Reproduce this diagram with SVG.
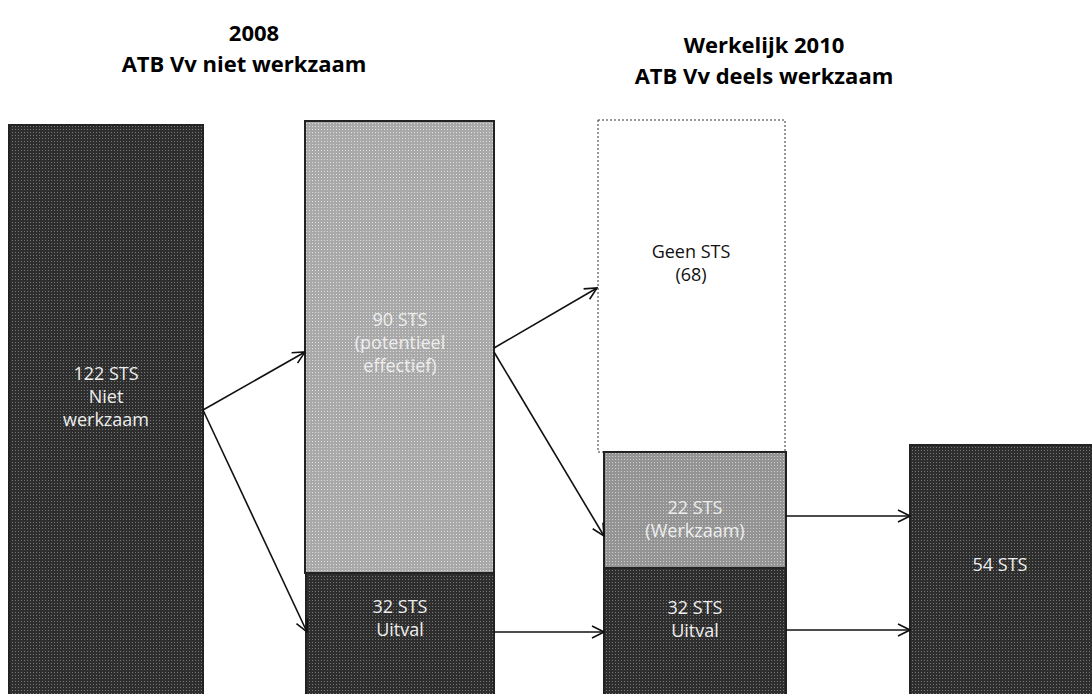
<svg xmlns="http://www.w3.org/2000/svg" width="1092" height="694" viewBox="0 0 1092 694">
<defs>
<style>
.t{font-family:"Open Sans","Liberation Sans",sans-serif;font-weight:bold;font-size:22px;fill:#000;text-anchor:middle}
.w{font-family:"Open Sans","Liberation Sans",sans-serif;font-size:18px;fill:#eee;text-anchor:middle}
.b{font-family:"Open Sans","Liberation Sans",sans-serif;font-size:18px;fill:#111;text-anchor:middle}
.dark{fill:url(#pd);stroke:#222;stroke-width:2}
.light{fill:url(#pl);stroke:#222;stroke-width:2}
.mid{fill:url(#pm);stroke:#222;stroke-width:2}
.ln{stroke:#111;stroke-width:1.6;fill:none;marker-end:url(#ah)}
</style>
<pattern id="pd" width="3" height="3" patternUnits="userSpaceOnUse"><rect width="3" height="3" fill="#2e2e2e"/><rect width="1" height="1" fill="#777"/></pattern>
<pattern id="pl" width="3" height="3" patternUnits="userSpaceOnUse"><rect width="3" height="3" fill="#a9a9a9"/><rect width="1" height="1" fill="#ddd"/></pattern>
<pattern id="pm" width="3" height="3" patternUnits="userSpaceOnUse"><rect width="3" height="3" fill="#949494"/><rect width="1" height="1" fill="#ccc"/></pattern>
<marker id="ah" viewBox="0 0 14 14" refX="13" refY="7" markerWidth="14" markerHeight="14" markerUnits="userSpaceOnUse" orient="auto"><polyline points="1,1 13,7 1,13" fill="none" stroke="#111" stroke-width="1.6"/></marker>
</defs>
<g id="titles">
<text class="t" x="254" y="41">2008</text>
<text class="t" x="244" y="72">ATB Vv niet werkzaam</text>
<text class="t" x="764" y="53">Werkelijk 2010</text>
<text class="t" x="764" y="84">ATB Vv deels werkzaam</text>
</g>
<g id="n122">
<rect class="dark" x="9" y="125" width="194" height="575"/>
<text class="w" x="106" y="380">122 STS</text>
<text class="w" x="106" y="403">Niet</text>
<text class="w" x="106" y="426">werkzaam</text>
</g>
<g id="n90">
<rect class="light" x="305" y="121" width="189" height="452"/>
<text class="w" x="400" y="326">90 STS</text>
<text class="w" x="400" y="349">(potentieel</text>
<text class="w" x="400" y="372">effectief)</text>
</g>
<g id="n32a">
<rect class="dark" x="306" y="573" width="188" height="127"/>
<text class="w" x="400" y="613">32 STS</text>
<text class="w" x="400" y="636">Uitval</text>
</g>
<g id="ngeen">
<rect x="598" y="120" width="187" height="332" fill="#fff" stroke="#333" stroke-width="1" stroke-dasharray="2,2"/>
<text class="b" x="691" y="258">Geen STS</text>
<text class="b" x="691" y="281">(68)</text>
</g>
<g id="n22">
<rect class="mid" x="604" y="452" width="182" height="116"/>
<text class="w" x="695" y="514">22 STS</text>
<text class="w" x="695" y="537">(Werkzaam)</text>
</g>
<g id="n32b">
<rect class="dark" x="604" y="568" width="182" height="132"/>
<text class="w" x="695" y="614">32 STS</text>
<text class="w" x="695" y="637">Uitval</text>
</g>
<g id="n54">
<rect class="dark" x="910" y="445" width="190" height="255"/>
<text class="w" x="1000" y="571">54 STS</text>
</g>
<g id="connectors">
<line class="ln" x1="203" y1="410" x2="305" y2="352"/>
<line class="ln" x1="203" y1="410" x2="307" y2="632"/>
<line class="ln" x1="494" y1="348" x2="597" y2="288"/>
<line class="ln" x1="494" y1="352" x2="604" y2="536"/>
<line class="ln" x1="494" y1="632" x2="604" y2="632"/>
<line class="ln" x1="786" y1="516" x2="910" y2="516"/>
<line class="ln" x1="786" y1="630" x2="910" y2="630"/>
</g>
</svg>
